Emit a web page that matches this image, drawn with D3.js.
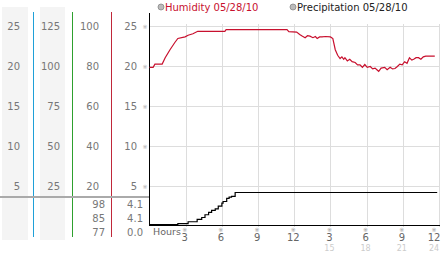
<!DOCTYPE html>
<html>
<head>
<meta charset="utf-8">
<script src="https://cdn.jsdelivr.net/npm/d3@7"></script>
<style>
  body { margin: 0; background: #fff; }
  text { font-family: "DejaVu Sans", sans-serif; }
</style>
</head>
<body>
<script>
/* CONSTANTS AND GLOBALS */
const width = 442,
  height = 253;

// left side scale columns (tick values only)
const col1Ticks = [25, 20, 15, 10, 5];
const col2Ticks = [125, 100, 75, 50, 25];
const col3Ticks = [100, 80, 60, 40, 20];
const humTicks = [25, 20, 15, 10, 5];
const col3Summary = ["98", "85", "77"];
const precipSummary = ["4.1", "4.1", "0.0"];

// x axis ticks (hours)
const hourTicks = [3, 6, 9, 12, 15, 18, 21, 24];
const hourLabels = ["3", "6", "9", "12", "3", "6", "9", "12"];
const hourLabels2 = ["", "", "", "", "15", "18", "21", "24"];

// humidity readings [hour, value]
const humHours = [0.0, 0.3, 0.45, 1.05, 1.3, 1.7, 2.1, 2.35, 2.95, 3.2, 3.6, 4.0, 6.25, 6.35, 11.4, 11.55,
  12.2, 12.45, 12.65, 12.9, 13.1, 13.3, 13.55, 13.75, 13.9, 14.1, 14.3, 14.6, 15.0, 15.2, 15.4, 15.6,
  15.8, 15.95, 16.1, 16.2, 16.4, 16.6, 16.8, 17.05, 17.25, 17.45, 17.65, 17.85, 18.05, 18.3, 18.5,
  18.7, 18.85, 19.0, 19.2, 19.5, 19.7, 19.95, 20.15, 20.35, 20.55, 20.75, 20.95, 21.15, 21.35,
  21.55, 21.75, 21.9, 22.1, 22.3, 22.5, 22.7, 22.9, 23.15, 23.65];
const humValues = [19.9, 19.9, 20.3, 20.3, 21.1, 22.1, 23.0, 23.5, 23.7, 23.9, 24.1, 24.4, 24.4, 24.6, 24.6, 24.35,
  24.3, 24.0, 23.8, 23.6, 23.85, 23.8, 23.6, 23.75, 23.5, 23.7, 23.7, 23.75, 23.7, 23.5, 22.1, 21.4,
  21.0, 21.2, 20.9, 21.1, 20.7, 20.9, 20.6, 20.5, 20.2, 20.2, 19.9, 20.25, 19.9, 20.0, 19.7,
  19.8, 19.6, 19.4, 19.8, 19.9, 19.6, 19.9, 19.7, 19.75, 20.0, 20.3, 20.2, 20.6, 20.4,
  21.1, 20.8, 20.9, 21.1, 21.1, 20.9, 21.2, 21.3, 21.3, 21.3];

// precipitation readings [hour, value]
const precipHours = [0.0, 2.35, 3.2, 3.95, 4.1, 4.33, 4.6, 4.9, 5.15, 5.45, 5.7, 6.0, 6.1, 6.4, 6.6, 6.8, 7.1, 23.85];
const precipValues = [0.0, 0.1, 0.35, 0.65, 0.65, 0.9, 1.25, 1.55, 1.8, 2.0, 2.35, 2.75, 2.95, 3.35, 3.5, 3.6, 4.1, 4.1];

const humColor = "#c8102e",
  labelColor = "#777";

const svg = d3.select("body")
  .append("svg")
  .attr("width", width)
  .attr("height", height);

// Scales
const xScale = d3.scaleLinear().domain([0, 24]).range([149.5, 439]);
const yHum = d3.scaleLinear().domain([5, 25]).range([186.5, 26.5]);
const yCol2 = d3.scaleLinear().domain([25, 125]).range([186.5, 26.5]);
const yCol3 = d3.scaleLinear().domain([20, 100]).range([186.5, 26.5]);
const yPrecip = d3.scaleLinear().domain([0, 4.1]).range([224.5, 192.5]);

// gray column backgrounds
svg.append("rect").attr("x", 2).attr("y", 7).attr("width", 26).attr("height", 233).attr("fill", "#f4f4f4");
svg.append("rect").attr("x", 40).attr("y", 7).attr("width", 25).attr("height", 233).attr("fill", "#f4f4f4");

// coloured separator lines
[[33.5, "#1fa0d8"], [72.5, "#2ea02e"], [111.5, "#c0283a"]].forEach(([x, c]) => {
  svg.append("line").attr("x1", x).attr("x2", x).attr("y1", 12).attr("y2", 237)
    .attr("stroke", c).attr("stroke-width", 1);
});

// left column labels
const colText = (ticks, scale, x, anchor) => {
  svg.append("g").selectAll("text")
    .data(ticks)
    .enter()
    .append("text")
    .attr("x", x)
    .attr("y", d => scale(d))
    .attr("dy", "0.36em")
    .attr("text-anchor", anchor)
    .attr("font-size", 10)
    .attr("fill", labelColor)
    .text(d => d);
};
colText(col1Ticks, yHum, 20, "end");
colText(col2Ticks, yCol2, 60, "end");
colText(col3Ticks, yCol3, 99, "end");
colText(humTicks, yHum, 137, "end");

// separator between the two panels
svg.append("line").attr("x1", 0).attr("x2", 149).attr("y1", 197).attr("y2", 197)
  .attr("stroke", "#aaa").attr("stroke-width", 2);

// summary numbers
[[col3Summary, 105], [precipSummary, 143]].forEach(([vals, x]) => {
  svg.append("g").selectAll("text")
    .data(vals)
    .enter()
    .append("text")
    .attr("x", x)
    .attr("y", (d, i) => 207.5 + i * 14)
    .attr("text-anchor", "end")
    .attr("font-size", 10)
    .attr("fill", labelColor)
    .text(d => d);
});

// grid
svg.append("g").selectAll("line")
  .data(humTicks)
  .enter()
  .append("line")
  .attr("x1", 150).attr("x2", 440)
  .attr("y1", d => yHum(d)).attr("y2", d => yHum(d))
  .attr("stroke", "#ddd");

svg.append("g").selectAll("line")
  .data(hourTicks)
  .enter()
  .append("line")
  .attr("x1", d => Math.round(xScale(d)) + 0.5).attr("x2", d => Math.round(xScale(d)) + 0.5)
  .attr("y1", 24).attr("y2", 227)
  .attr("stroke", "#ddd");

// little tick marks on the y axis
svg.append("g").selectAll("text")
  .data(humTicks)
  .enter()
  .append("text")
  .attr("x", 145)
  .attr("y", d => yHum(d))
  .attr("dy", "0.35em")
  .attr("text-anchor", "middle")
  .attr("font-size", 6)
  .attr("fill", "#aaa")
  .text("※");

// x axis labels (last one kept inside the frame)
const xTicks = svg.append("g").selectAll("g")
  .data(hourTicks)
  .enter()
  .append("g")
  .attr("transform", d => `translate(${Math.min(xScale(d) - 1, 434)},0)`);

xTicks.append("text").attr("y", 232).attr("text-anchor", "middle")
  .attr("font-size", 6).attr("fill", "#999").text("※");
xTicks.append("text").attr("y", 240.5).attr("text-anchor", "middle")
  .attr("font-size", 10).attr("fill", "#666").text((d, i) => hourLabels[i]);
xTicks.append("text").attr("y", 250.5).attr("text-anchor", "middle")
  .attr("font-size", 8).attr("fill", "#ccc").text((d, i) => hourLabels2[i]);

svg.append("text").attr("x", 153).attr("y", 235).attr("font-size", 9.5)
  .attr("fill", "#666").text("Hours");

// axis lines
svg.append("line").attr("x1", 149.5).attr("x2", 149.5).attr("y1", 13).attr("y2", 226)
  .attr("stroke", "#000");
svg.append("line").attr("x1", 149).attr("x2", 440).attr("y1", 225.5).attr("y2", 225.5)
  .attr("stroke", "#000");

// humidity line
const humData = humHours.map((h, i) => ({ h: h, v: humValues[i] }));
svg.append("path")
  .datum(humData)
  .attr("fill", "none")
  .attr("stroke", humColor)
  .attr("stroke-width", 1.2)
  .attr("d", d3.line().x(d => xScale(d.h)).y(d => yHum(d.v)));

// precipitation line
const precipData = precipHours.map((h, i) => ({ h: h, v: precipValues[i] }));
svg.append("path")
  .datum(precipData)
  .attr("fill", "none")
  .attr("stroke", "#000")
  .attr("stroke-width", 1.2)
  .attr("d", d3.line().curve(d3.curveStepAfter).x(d => xScale(d.h)).y(d => yPrecip(d.v)));

// legend
const legend = [
  { x: 161, label: "Humidity 05/28/10", color: humColor },
  { x: 293, label: "Precipitation 05/28/10", color: "#222" }
];
legend.forEach(l => {
  svg.append("circle").attr("cx", l.x).attr("cy", 7).attr("r", 3)
    .attr("fill", "#bbb").attr("stroke", "#888").attr("stroke-width", 0.8);
  svg.append("text").attr("x", l.x + 4).attr("y", 11).attr("font-size", 10)
    .attr("fill", l.color).text(l.label);
});
</script>
</body>
</html>
